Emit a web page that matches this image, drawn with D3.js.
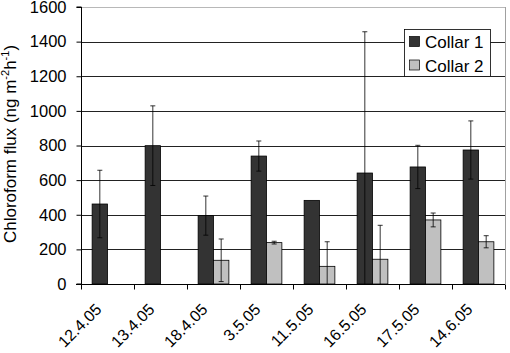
<!DOCTYPE html>
<html><head><meta charset="utf-8">
<script src="https://cdn.jsdelivr.net/npm/d3@7"></script>
<style>body{margin:0;background:#fff}text{font-family:"Liberation Sans",Arial,sans-serif}</style>
</head><body><svg id="c" width="510" height="353"></svg>
<script>
const categories = ["12.4.05","13.4.05","18.4.05","3.5.05","11.5.05","16.5.05","17.5.05","14.6.05"];
const collar1 = [462, 799, 395, 739, 483, 641, 676, 774];
const collar1Err = [195, 230, 113, 87, 0, 816, 125, 168];
const collar2 = [null, null, 137, 239, 102, 143, 370, 244];
const collar2Err = [null, null, 123, 8, 142, 196, 40, 35];
const yTicks = [0,200,400,600,800,1000,1200,1400,1600];
const seriesNames = ["Collar 1","Collar 2"];
const colors = ["#333333","#c0c0c0"];

const svg = d3.select("#c");
const m = {l:81, r:5, t:7, b:69};
const W = 510, H = 353;
const FS = "17px";
const x = d3.scaleBand().domain(categories).range([m.l, W-m.r]).paddingInner(0).paddingOuter(0);
const y = d3.scaleLinear().domain([0,1600]).range([H-m.b, m.t]);
const bw = x.bandwidth();
const barW = bw*0.29;
const groupOff = (bw - 2*barW)/2;

// plot borders
svg.append("line").attr("x1",m.l).attr("x2",W-m.r).attr("y1",y(1600)+0.5).attr("y2",y(1600)+0.5).attr("stroke","#b8b8b8");
svg.append("line").attr("x1",W-m.r+0.5).attr("x2",W-m.r+0.5).attr("y1",y(1600)).attr("y2",y(0)).attr("stroke","#a0a0a0");
// gridlines
svg.append("g").selectAll("line").data(yTicks.filter(d=>d>0&&d<1600)).join("line")
  .attr("x1",m.l).attr("x2",W-m.r).attr("y1",d=>Math.round(y(d))+0.5).attr("y2",d=>Math.round(y(d))+0.5)
  .attr("stroke","#222").attr("stroke-width",1);

const series = [
  {vals:collar1, err:collar1Err, off:0},
  {vals:collar2, err:collar2Err, off:1}
];
series.forEach((s,si)=>{
  const g = svg.append("g");
  categories.forEach((c,i)=>{
    const v = s.vals[i];
    if(v==null) return;
    const bx = x(c)+groupOff+s.off*barW;
    g.append("rect").attr("x",bx).attr("y",y(v)).attr("width",barW).attr("height",y(0)-y(v))
      .attr("fill",colors[si]).attr("stroke","#000").attr("stroke-width",0.8);
  });
});
// error bars
series.forEach((s,si)=>{
  const g = svg.append("g").attr("stroke","#000").attr("stroke-width",0.8);
  categories.forEach((c,i)=>{
    const v = s.vals[i], e = s.err[i];
    if(v==null || !e) return;
    const cx = x(c)+groupOff+s.off*barW+barW/2;
    const hi = Math.min(1600, v+e), lo = Math.max(0, v-e);
    g.append("line").attr("x1",cx).attr("x2",cx).attr("y1",y(hi)).attr("y2",y(lo));
    g.append("line").attr("x1",cx-2.5).attr("x2",cx+2.5).attr("y1",y(hi)).attr("y2",y(hi));
    if(v-e>0) g.append("line").attr("x1",cx-2.5).attr("x2",cx+2.5).attr("y1",y(lo)).attr("y2",y(lo));
  });
});

// y axis
const ya = svg.append("g").attr("transform",`translate(${m.l+0.5},0)`)
  .call(d3.axisLeft(y).tickValues(yTicks).tickSize(5).tickPadding(10).tickFormat(d3.format("d")));
ya.select(".domain").attr("stroke","#000").attr("d",`M-5,${y(0)}H0V${y(1600)}H-5`);
ya.selectAll(".tick line").attr("stroke","#000");
ya.selectAll("text").attr("font-size","16.5px").attr("fill","#000").attr("font-family","Liberation Sans, Arial, sans-serif");

// x axis
const xa = svg.append("g").attr("transform",`translate(0,${y(0)+0.5})`);
xa.append("line").attr("x1",m.l-5).attr("x2",W-m.r).attr("stroke","#000");
const tickXs = categories.map(c=>x(c)).concat([W-m.r]);
xa.selectAll("line.t").data(tickXs).join("line").attr("class","t")
  .attr("x1",d=>Math.round(d)+0.5).attr("x2",d=>Math.round(d)+0.5).attr("y1",0).attr("y2",5).attr("stroke","#000");
xa.selectAll("text").data(categories).join("text")
  .attr("transform",d=>`translate(${x(d)+bw/2-5},${26}) rotate(-45)`)
  .attr("text-anchor","end").attr("font-size","16px").attr("fill","#000").text(d=>d);

// y title
const yt = svg.append("text").attr("transform",`translate(16,${144}) rotate(-90)`)
  .attr("text-anchor","middle").attr("font-size",FS).attr("fill","#000");
yt.append("tspan").text("Chloroform flux (ng m");
yt.append("tspan").attr("font-size","11px").attr("dy","-7").text("-2");
yt.append("tspan").attr("dy","7").text("h");
yt.append("tspan").attr("font-size","11px").attr("dy","-7").text("-1");
yt.append("tspan").attr("dy","7").text(")");

// legend
const lg = svg.append("g").attr("transform","translate(404.5,29.5)");
lg.append("rect").attr("width",86).attr("height",47).attr("fill","#fff").attr("stroke","#000").attr("stroke-width",0.8);
seriesNames.forEach((n,i)=>{
  lg.append("rect").attr("x",5).attr("y",7+i*23.5).attr("width",10).attr("height",10).attr("fill",colors[i]).attr("stroke","#000").attr("stroke-width",0.7);
  lg.append("text").attr("x",20.5).attr("y",18.5+i*23.5).attr("font-size",FS).attr("fill","#000").text(n);
});
</script></body></html>
